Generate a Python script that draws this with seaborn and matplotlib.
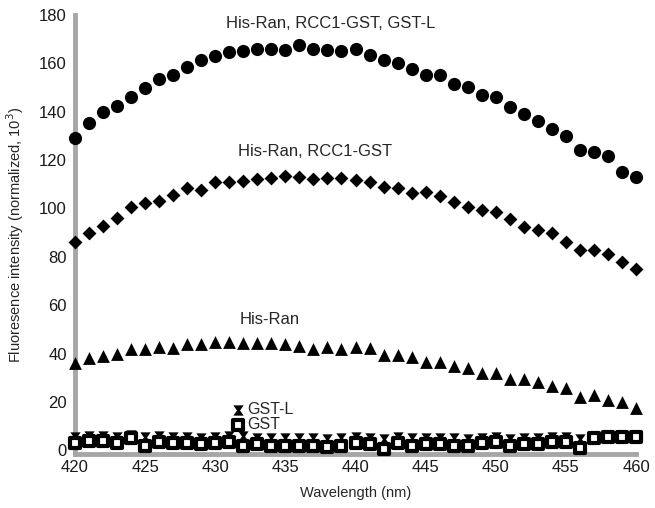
import numpy as np
import pandas as pd
import matplotlib
matplotlib.use("Agg")
import matplotlib.pyplot as plt
import seaborn as sns

# wavelength grid (nm), one reading per nm
wavelength = list(range(420, 461))

ran_rcc1_gstl = [129, 135.5, 140, 142.5, 146, 150, 153.5, 155, 158.5, 161.5,
                 163, 164.5, 165, 166, 166, 165.5, 167.5, 166, 165.5, 165.3,
                 166, 163.5, 161.5, 160.3, 157.6, 155, 155, 151.6, 150.4, 147,
                 146, 142, 139, 136, 133, 129.8, 124, 123.5, 121.5, 115, 113]

ran_rcc1 = [86, 90, 92.8, 96, 100.6, 102.4, 103, 105.6, 108.4, 107.6,
            111, 111, 111.5, 112, 112.6, 113.4, 113, 112, 112.8, 112.6,
            111.8, 111, 109, 108.4, 106.4, 107, 105, 102.8, 100.8, 99.4,
            98.6, 95.6, 92.2, 91, 89.8, 86.3, 83, 83, 81, 78, 75]

ran = [36, 38, 39, 39.8, 42, 41.8, 42.6, 42.4, 43.9, 43.8,
       44.7, 45, 44.2, 44.2, 44.2, 43.9, 43, 41.8, 42.6, 42,
       42.6, 42.4, 39.3, 39.3, 38.5, 36.4, 36.4, 34.8, 33.9, 31.8,
       31.8, 29.7, 29.7, 28.2, 26.5, 25.6, 22, 22.8, 20.7, 20, 17.4]

gst_l = [5.5, 6, 6, 5.5, 6.5, 5.5, 6, 5.5, 5.5, 5,
         5.5, 6, 6, 5, 5, 5, 5, 5, 4.5, 5,
         5.5, 5, 4.5, 5.5, 5, 5, 5, 5, 4.5, 5,
         5.5, 4.5, 5, 5, 5.5, 5.5, 4.5, 5.5, 6, 6, 6]

gst = [3, 4, 4, 3, 5, 2, 3.5, 3, 3, 2.5,
       3, 3.5, 2, 2.5, 2, 2, 2, 2, 1.5, 2,
       3, 2.5, 0.5, 3, 2, 2.5, 2.5, 2, 2, 3,
       3.5, 2, 2.5, 2.5, 3.5, 3.5, 1, 5, 5.5, 5.5, 5.5]

df = pd.DataFrame({
    "wl": wavelength,
    "a": ran_rcc1_gstl,
    "b": ran_rcc1,
    "c": ran,
    "d": gst_l,
    "e": gst,
})

sns.set_style("white")
plt.rcParams['font.family'] = ['Liberation Sans', 'DejaVu Sans']

# hourglass shape used for the GST-L points
bowtie = [(-1, 1), (1, 1), (0.3, 0), (1, -1), (-1, -1), (-0.3, 0), (-1, 1)]

fig = plt.figure(figsize=(6.55, 5.08), dpi=100)
ax = fig.add_axes([0.1145, 0.1063, 0.8565, 0.8642])

sns.scatterplot(data=df, x="wl", y="a", marker="o", s=90, color="black",
                edgecolor="black", linewidth=0, ax=ax, clip_on=False, zorder=3)
sns.scatterplot(data=df, x="wl", y="b", marker="D", s=50, color="black",
                edgecolor="black", linewidth=0, ax=ax, clip_on=False, zorder=3)
sns.scatterplot(data=df, x="wl", y="c", marker="^", s=85, color="black",
                edgecolor="black", linewidth=0, ax=ax, clip_on=False, zorder=3)
sns.scatterplot(data=df, x="wl", y="d", marker=bowtie, s=55, color="black",
                edgecolor="black", linewidth=0, ax=ax, clip_on=False, zorder=3,
                label="GST-L")
sns.scatterplot(data=df, x="wl", y="e", marker="s", s=45, color="white",
                edgecolor="black", linewidth=3, ax=ax, clip_on=False, zorder=4,
                label="GST")

ax.set_xlim(420, 460)
ax.set_ylim(-1.5, 180)
ax.set_xticks(range(420, 461, 5))
ax.set_yticks(range(0, 181, 20))
ax.tick_params(axis="both", length=0, labelsize=12, colors="#1a1a1a")
ax.tick_params(axis="x", pad=4)
ax.tick_params(axis="y", pad=6)

for side in ["top", "right"]:
    ax.spines[side].set_visible(False)
for side in ["left", "bottom"]:
    ax.spines[side].set_color("#a6a6a6")
    ax.spines[side].set_linewidth(3.5)

ax.set_xlabel("Wavelength (nm)", fontsize=10.5, labelpad=8)
ax.set_ylabel("Fluoresence intensity (normalized, 10$^3$)", fontsize=10.5, labelpad=9)

# series labels
ax.text(438.2, 176.5, "His-Ran, RCC1-GST, GST-L", fontsize=12, ha="center", va="center")
ax.text(437.1, 123.4, "His-Ran, RCC1-GST", fontsize=12, ha="center", va="center")
ax.text(433.9, 54, "His-Ran", fontsize=12, ha="center", va="center")

ax.legend(loc="lower left", bbox_to_anchor=(0.282, 0.05), frameon=False,
          fontsize=11.5, handlelength=0.6, handletextpad=0.3, borderpad=0,
          labelspacing=0, borderaxespad=0)

plt.savefig("out.png", dpi=100)
plt.close()
